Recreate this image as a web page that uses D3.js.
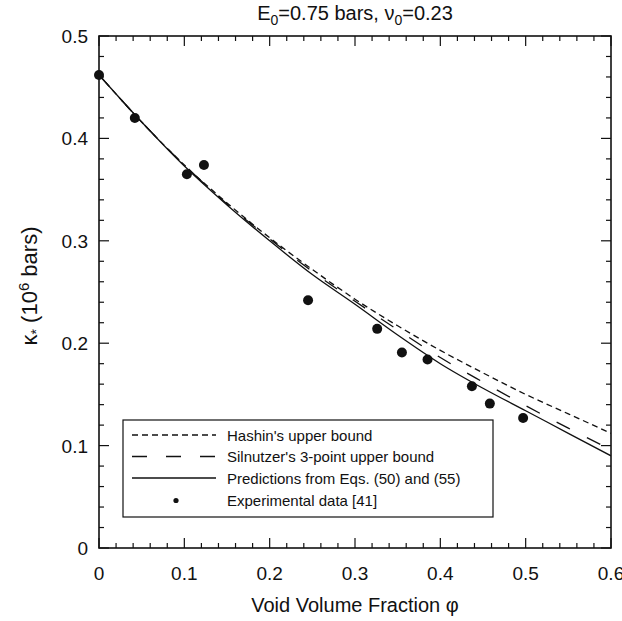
<!DOCTYPE html>
<html><head><meta charset="utf-8">
<script src="https://cdn.jsdelivr.net/npm/d3@7"></script>
<style>
body{margin:0;background:#fff;}
text{font-family:"Liberation Sans",Arial,Helvetica,sans-serif;fill:#111;}
</style></head>
<body><svg id="c" width="622" height="621"></svg>
<script>
// Data
const phiGrid = [0,0.05,0.1,0.15,0.2,0.25,0.3,0.35,0.4,0.45,0.5,0.55,0.6];
const hashin = [0.462,0.416,0.374,0.337,0.303,0.272,0.243,0.217,0.193,0.171,0.150,0.131,0.112];
const silnutzer = [0.462,0.416,0.374,0.336,0.302,0.270,0.241,0.213,0.186,0.162,0.139,0.117,0.096];
const predictions = [0.462,0.416,0.373,0.335,0.300,0.267,0.238,0.208,0.180,0.156,0.134,0.112,0.090];
const expPhi = [0,0.042,0.103,0.123,0.245,0.326,0.355,0.385,0.437,0.458,0.497];
const expK = [0.462,0.420,0.365,0.374,0.242,0.214,0.191,0.184,0.158,0.141,0.127];
const xTicks = [0,0.1,0.2,0.3,0.4,0.5,0.6];
const yTicks = [0,0.1,0.2,0.3,0.4,0.5];
const legendLabels = ["Hashin's upper bound","Silnutzer's 3-point upper bound","Predictions from Eqs. (50) and (55)","Experimental data [41]"];

const svg = d3.select("#c");
const L=99,R=611,T=36,B=548;
const x = d3.scaleLinear().domain([0,0.6]).range([L,R]);
const y = d3.scaleLinear().domain([0,0.5]).range([B,T]);

// Title
const title = svg.append("text").attr("x",(L+R)/2).attr("y",20).attr("text-anchor","middle").style("font-size","20px");
title.append("tspan").text("E");
title.append("tspan").attr("dy",5).style("font-size","14px").text("0");
title.append("tspan").attr("dy",-5).text("=0.75 bars, ν");
title.append("tspan").attr("dy",5).style("font-size","14px").text("0");
title.append("tspan").attr("dy",-5).text("=0.23");

// Ticks (inward, all sides)
const minor = d3.range(0,0.6001,0.02);
const minorY = d3.range(0,0.5001,0.02);
const g = svg.append("g").attr("stroke","#111").attr("stroke-width",1.2);
minor.forEach(v=>{
  const maj = Math.abs(v*10-Math.round(v*10))<1e-6;
  const len = maj?10:5;
  g.append("line").attr("x1",x(v)).attr("x2",x(v)).attr("y1",B).attr("y2",B-len);
  g.append("line").attr("x1",x(v)).attr("x2",x(v)).attr("y1",T).attr("y2",T+len);
});
minorY.forEach(v=>{
  const maj = Math.abs(v*10-Math.round(v*10))<1e-6;
  const len = maj?10:5;
  g.append("line").attr("y1",y(v)).attr("y2",y(v)).attr("x1",L).attr("x2",L+len);
  g.append("line").attr("y1",y(v)).attr("y2",y(v)).attr("x1",R).attr("x2",R-len);
});
svg.append("rect").attr("x",L).attr("y",T).attr("width",R-L).attr("height",B-T)
  .attr("fill","none").attr("stroke","#111").attr("stroke-width",1.6);

// Tick labels
const fmt = v => v===0?"0":d3.format(".1f")(v);
svg.selectAll(".xt").data(xTicks).enter().append("text")
  .attr("x",d=>x(d)).attr("y",580).attr("text-anchor","middle").style("font-size","19px").text(fmt);
svg.selectAll(".yt").data(yTicks).enter().append("text")
  .attr("x",88).attr("y",d=>y(d)+7).attr("text-anchor","end").style("font-size","19px").text(fmt);

// Axis labels
svg.append("text").attr("x",(L+R)/2).attr("y",612).attr("text-anchor","middle").style("font-size","20px")
  .text("Void Volume Fraction φ");
const yl = svg.append("text").attr("transform","translate(37,"+((T+B)/2-6)+") rotate(-90)")
  .attr("text-anchor","middle").style("font-size","22px");
yl.append("tspan").text("κ");
yl.append("tspan").attr("dy",4).style("font-size","14px").text("*");
yl.append("tspan").attr("dy",-4).text(" (10");
yl.append("tspan").attr("dy",-8).style("font-size","15px").text("6");
yl.append("tspan").attr("dy",8).text(" bars)");

// Curves
const line = d3.line().x(d=>x(d[0])).y(d=>y(d[1])).curve(d3.curveMonotoneX);
svg.append("clipPath").attr("id","pc").append("rect").attr("x",L).attr("y",T).attr("width",R-L).attr("height",B-T);
const curves = [
  {vals:hashin, dash:"6,4"},
  {vals:silnutzer, dash:"15,19"},
  {vals:predictions, dash:null}
];
curves.forEach(c=>{
  svg.append("path").datum(phiGrid.map((p,i)=>[p,c.vals[i]]))
    .attr("d",line).attr("fill","none").attr("stroke","#111").attr("stroke-width",1.3)
    .attr("stroke-dasharray",c.dash).attr("clip-path","url(#pc)");
});

// Experimental points
svg.selectAll(".pt").data(expPhi).enter().append("circle")
  .attr("cx",d=>x(d)).attr("cy",(d,i)=>y(expK[i])).attr("r",5).attr("fill","#111");

// Legend
svg.append("rect").attr("x",123).attr("y",420).attr("width",370).attr("height",97)
  .attr("fill","#fff").attr("stroke","#111").attr("stroke-width",1.2);
const rows=[435,456.5,478,500.5];
[0,1,2].forEach(i=>{
  svg.append("line").attr("x1",132).attr("x2",216).attr("y1",rows[i]).attr("y2",rows[i])
    .attr("stroke","#111").attr("stroke-width",1.3).attr("stroke-dasharray",curves[i].dash);
});
svg.append("circle").attr("cx",176).attr("cy",rows[3]).attr("r",2.6).attr("fill","#111");
legendLabels.forEach((t,i)=>{
  svg.append("text").attr("x",227).attr("y",rows[i]+5.5).style("font-size","15px").text(t);
});
</script></body></html>
